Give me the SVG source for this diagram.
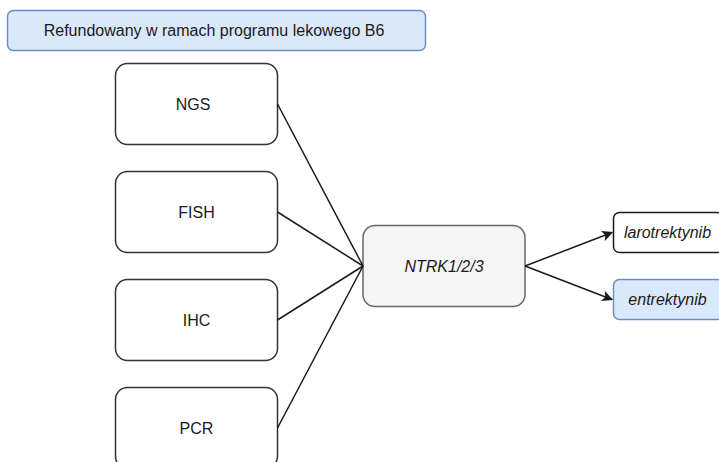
<svg xmlns="http://www.w3.org/2000/svg" width="719" height="462" viewBox="0 0 719 462">
  <defs>
    <style>
      text { font-family: "Liberation Sans", Arial, sans-serif; font-size: 16px; fill: #1a1a1a; text-anchor: middle; dominant-baseline: central; }
      .it { font-style: italic; }
      .test { fill: #ffffff; stroke: #333333; stroke-width: 1.5; }
      .blue { fill: #dae8fc; stroke: #6c8ebf; stroke-width: 1.5; }
      .gray { fill: #f5f5f5; stroke: #666666; stroke-width: 1.5; }
      .plain { fill: #ffffff; stroke: #1a1a1a; stroke-width: 1.5; }
      .edge { fill: none; stroke: #1a1a1a; stroke-width: 1.5; }
    </style>
    <marker id="arrow" viewBox="0 0 10 10" refX="9" refY="5" markerWidth="11" markerHeight="11" markerUnits="userSpaceOnUse" orient="auto">
      <path d="M0,0 L10,5 L0,10 L2.5,5 Z" fill="#1a1a1a"/>
    </marker>
  </defs>

  <g id="header">
    <rect class="blue" x="7.5" y="10.5" width="418" height="40" rx="6"/>
    <text x="214" y="30.5">Refundowany w ramach programu lekowego B6</text>
  </g>

  <g id="ngs">
    <rect class="test" x="115.5" y="63.5" width="162" height="81" rx="12"/>
    <text x="193" y="104">NGS</text>
  </g>
  <g id="fish">
    <rect class="test" x="115.5" y="171.5" width="162" height="81" rx="12"/>
    <text x="196.5" y="212">FISH</text>
  </g>
  <g id="ihc">
    <rect class="test" x="115.5" y="279.5" width="162" height="81" rx="12"/>
    <text x="196.5" y="320">IHC</text>
  </g>
  <g id="pcr">
    <rect class="test" x="115.5" y="387.5" width="162" height="81" rx="12"/>
    <text x="196.5" y="428">PCR</text>
  </g>

  <g id="ntrk">
    <rect class="gray" x="363" y="225.5" width="162" height="81" rx="12"/>
    <text class="it" x="444" y="266">NTRK1/2/3</text>
  </g>

  <g id="larotrektynib">
    <rect class="plain" x="613.5" y="212.5" width="110" height="40" rx="6"/>
    <text class="it" x="667.5" y="232.5">larotrektynib</text>
  </g>
  <g id="entrektynib">
    <rect class="blue" x="613.5" y="279.5" width="110" height="40" rx="6"/>
    <text class="it" x="667.5" y="299.5">entrektynib</text>
  </g>

  <g id="connectors">
    <path class="edge" d="M277.5,104 L363,266"/>
    <path class="edge" d="M277.5,212 L363,266"/>
    <path class="edge" d="M277.5,320 L363,266"/>
    <path class="edge" d="M277.5,428 L363,266"/>
    <path class="edge" d="M525,266 L612,232.5" marker-end="url(#arrow)"/>
    <path class="edge" d="M525,266 L612,299.5" marker-end="url(#arrow)"/>
  </g>
</svg>
